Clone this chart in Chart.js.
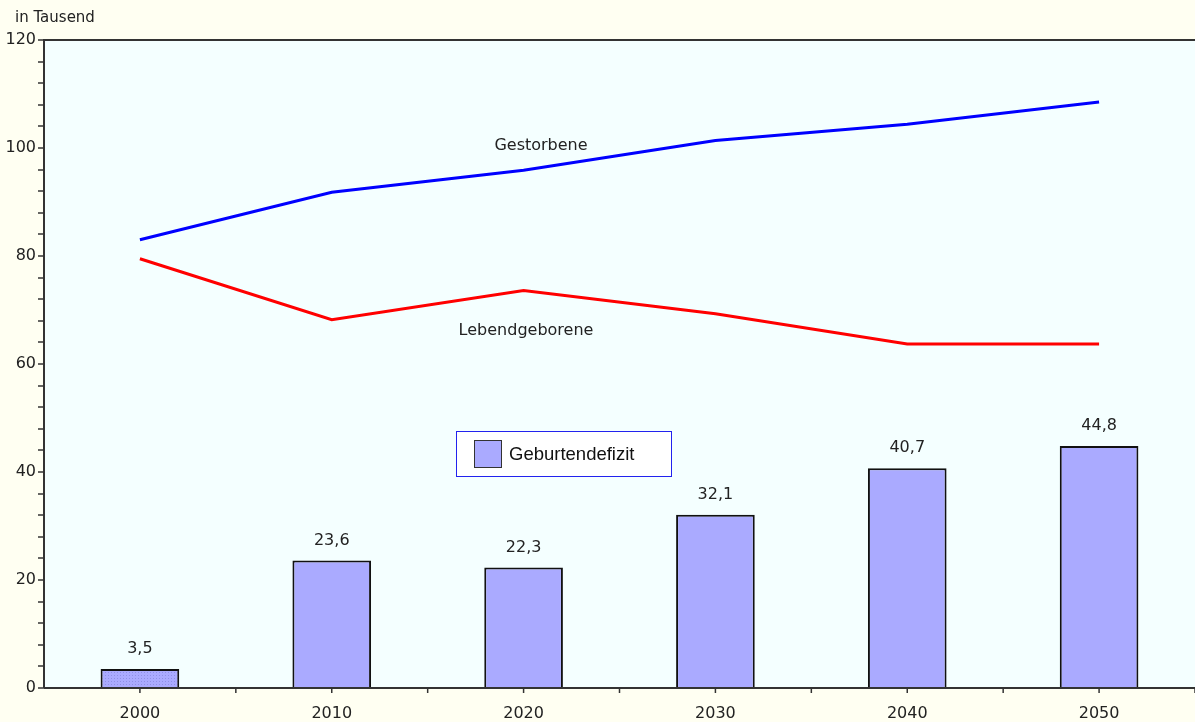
<!DOCTYPE html>
<html>
<head>
<meta charset="utf-8">
<script src="https://cdn.jsdelivr.net/npm/chart.js@4.4.1/dist/chart.umd.min.js"></script>
<style>
  html, body { margin: 0; padding: 0; background: #fffff2; }
  #wrap { width: 1195px; height: 722px; position: relative; }
</style>
</head>
<body>
<div id="wrap"><canvas id="chart" width="1195" height="722"></canvas></div>
<script>
const years = ['2000', '2010', '2020', '2030', '2040', '2050'];
const defizit = [3.5, 23.6, 22.3, 32.1, 40.7, 44.8];
const gestorbene = [83.0, 91.8, 95.9, 101.4, 104.4, 108.5];
const lebendgeborene = [79.5, 68.2, 73.6, 69.3, 63.7, 63.7];
const yTickLabels = [0, 20, 40, 60, 80, 100, 120];

const FONT = '"DejaVu Sans", Verdana, sans-serif';

// dotted fill for the first bar
function dotPattern() {
  const c = document.createElement('canvas');
  c.width = 3; c.height = 3;
  const g = c.getContext('2d');
  g.fillStyle = '#aaaaff';
  g.fillRect(0, 0, 3, 3);
  g.fillStyle = '#8f8fe6';
  g.fillRect(0, 0, 1, 1);
  return g.createPattern(c, 'repeat');
}

const decor = {
  id: 'decor',
  beforeDraw(chart) {
    const { ctx, chartArea: a } = chart;
    ctx.save();
    ctx.fillStyle = '#fffff2';
    ctx.fillRect(0, 0, chart.width, chart.height);
    ctx.fillStyle = '#f4ffff';
    ctx.fillRect(a.left, a.top, a.right - a.left, a.bottom - a.top);
    ctx.restore();
  },
  afterDatasetsDraw(chart) {
    const { ctx, chartArea: a, scales } = chart;
    const x = scales.x, y = scales.y;
    ctx.save();
    // frame
    ctx.strokeStyle = '#333';
    ctx.lineWidth = 2;
    ctx.beginPath();
    ctx.moveTo(a.left, a.bottom);
    ctx.lineTo(a.left, a.top);
    ctx.lineTo(a.right, a.top);
    ctx.moveTo(a.left, a.bottom);
    ctx.lineTo(a.right, a.bottom);
    ctx.stroke();
    // y ticks every 4
    ctx.lineWidth = 1.5;
    for (let v = 0; v <= 120; v += 4) {
      const py = Math.round(y.getPixelForValue(v));
      ctx.beginPath();
      ctx.moveTo(a.left - 6, py);
      ctx.lineTo(a.left, py);
      ctx.stroke();
    }
    // x ticks at centers and boundaries
    const step = x.getPixelForValue(1) - x.getPixelForValue(0);
    years.forEach((_, i) => {
      const cx = x.getPixelForValue(i);
      [cx, cx + step / 2].forEach(px => {
        ctx.beginPath();
        ctx.moveTo(px, a.bottom);
        ctx.lineTo(px, a.bottom + 5);
        ctx.stroke();
      });
    });
    // y labels
    ctx.fillStyle = '#222';
    ctx.font = '16px ' + FONT;
    ctx.textAlign = 'right';
    ctx.textBaseline = 'middle';
    yTickLabels.forEach(v => ctx.fillText(String(v), a.left - 8, y.getPixelForValue(v)));
    // x labels
    ctx.textAlign = 'center';
    years.forEach((yr, i) => ctx.fillText(yr, x.getPixelForValue(i), a.bottom + 26));
    // unit
    ctx.textAlign = 'left';
    ctx.font = '15px ' + FONT;
    ctx.fillText('in Tausend', 15, 18);
    // value labels above bars
    ctx.font = '16px ' + FONT;
    ctx.textAlign = 'center';
    defizit.forEach((v, i) => {
      ctx.fillText(String(v).replace('.', ','), x.getPixelForValue(i), y.getPixelForValue(v) - 20);
    });
    // line labels
    ctx.fillText('Gestorbene', 541, 146);
    ctx.fillText('Lebendgeborene', 526, 331);
    // legend
    ctx.fillStyle = '#ffffff';
    ctx.fillRect(456, 431, 216, 46);
    ctx.strokeStyle = '#2222ee';
    ctx.lineWidth = 1;
    ctx.strokeRect(456.5, 431.5, 215, 45);
    ctx.fillStyle = '#aaaaff';
    ctx.fillRect(474, 440, 28, 28);
    ctx.strokeStyle = '#333';
    ctx.strokeRect(474.5, 440.5, 27, 27);
    ctx.fillStyle = '#111';
    ctx.font = '18.5px "Liberation Sans", Arial, sans-serif';
    ctx.textAlign = 'left';
    ctx.fillText('Geburtendefizit', 509, 455);
    ctx.restore();
  }
};

const bg = years.map((_, i) => i === 0 ? dotPattern() : '#aaaaff');

new Chart(document.getElementById('chart'), {
  data: {
    labels: years,
    datasets: [
      {
        type: 'line', label: 'Gestorbene', data: gestorbene,
        borderColor: '#0000ff', borderWidth: 3, pointRadius: 0, tension: 0, order: 1
      },
      {
        type: 'line', label: 'Lebendgeborene', data: lebendgeborene,
        borderColor: '#ff0000', borderWidth: 3, pointRadius: 0, tension: 0, order: 1
      },
      {
        type: 'bar', label: 'Geburtendefizit', data: defizit,
        backgroundColor: bg, borderColor: '#111', borderWidth: 2,
        barPercentage: 0.41, categoryPercentage: 1, order: 2
      }
    ]
  },
  options: {
    responsive: false,
    animation: false,
    layout: { padding: { top: 40, right: 0, left: 0, bottom: 0 } },
    plugins: { legend: { display: false }, tooltip: { enabled: false } },
    scales: {
      x: {
        type: 'category', offset: true,
        grid: { display: false }, border: { display: false },
        ticks: { display: false },
        afterFit(s) { s.height = 34; }
      },
      y: {
        min: 0, max: 120,
        grid: { display: false }, border: { display: false },
        ticks: { display: false, stepSize: 20 },
        afterFit(s) { s.width = 44; }
      }
    }
  },
  plugins: [decor]
});
</script>
</body>
</html>
